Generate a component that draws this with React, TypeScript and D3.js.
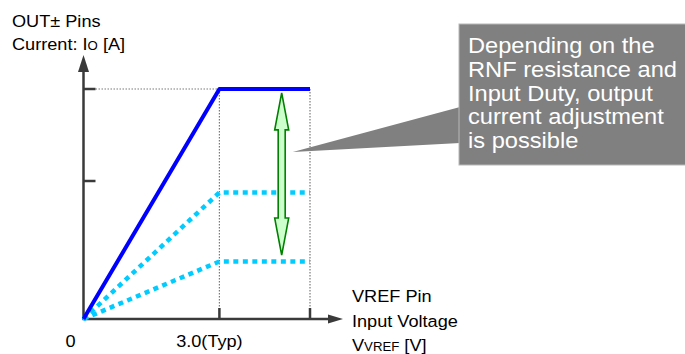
import React from "react";
import * as d3 from "d3";

// ---- data ----
const voltages = [0, 3.0, 5.0];
const maxCurrent = [0, 1.0, 1.0];
const midCurrent = [0, 0.55, 0.55];
const lowCurrent = [0, 0.25, 0.25];
const yTicks = [1.0, 0.6];
const xTicks = [3.0, 5.0];
const xTickLabels = [{ v: 0, label: "0", dx: -13 }, { v: 3.0, label: "3.0(Typ)", dx: -10 }];
const adjustArrow = { v: 4.375, from: 0.983, to: 0.278 };
const pointerTarget = { v: 4.62, c: 0.726 };
const calloutLines = [
  "Depending on the",
  "RNF resistance and",
  "Input Duty, output",
  "current adjustment",
  "is possible",
];

const W = 685;
const H = 354;
const FONT = "'Liberation Sans', Arial, Helvetica, sans-serif";

export default function App() {
  const x = d3.scaleLinear().domain([0, 5]).range([83.5, 310]);
  const y = d3.scaleLinear().domain([0, 1]).range([319, 89]);
  const line = d3
    .line<number>()
    .x((_, i) => x(voltages[i]))
    .y((d) => y(d));

  const axisColor = "#3a3a3a";
  const ax0 = x(0);
  const ay0 = y(0);

  // green double arrow
  const ax = x(adjustArrow.v);
  const top = y(adjustArrow.from);
  const bot = y(adjustArrow.to);
  const hl = 37, hw = 7, sw = 3.5;
  const arrowPts = [
    [ax, top],
    [ax + hw, top + hl],
    [ax + sw, top + hl],
    [ax + sw, bot - hl],
    [ax + hw, bot - hl],
    [ax, bot],
    [ax - hw, bot - hl],
    [ax - sw, bot - hl],
    [ax - sw, top + hl],
    [ax - hw, top + hl],
  ]
    .map((p) => p.join(","))
    .join(" ");

  const boxX = 459, boxY = 24, boxH = 141;
  const pointer = [
    [boxX + 1, 107],
    [x(pointerTarget.v), y(pointerTarget.c)],
    [boxX + 1, 143],
  ]
    .map((p) => p.join(","))
    .join(" ");

  const txt = (tx: number, ty: number, children: React.ReactNode, extra: any = {}) => (
    <text
      transform={`translate(${tx},${ty}) scale(1.1,1)`}
      fontFamily={FONT}
      fontSize={16.5}
      fill="#000"
      {...extra}
    >
      {children}
    </text>
  );

  return (
    <svg
      width={W}
      height={H}
      style={{ position: "absolute", left: 0, top: 0, background: "#fff" }}
    >
      {/* dotted guide lines */}
      <g stroke="#7a7a7a" strokeWidth={1.2} strokeDasharray="1.5,1.5" fill="none">
        <line x1={ax0 + 12} x2={x(3.0)} y1={y(1)} y2={y(1)} />
        {xTicks.map((v) => (
          <line key={v} x1={x(v)} x2={x(v)} y1={y(1)} y2={ay0 - 11} />
        ))}
      </g>

      {/* axes */}
      <g stroke={axisColor} strokeWidth={2.5} fill="none">
        <line x1={ax0} x2={ax0} y1={ay0 + 1} y2={70} />
        <line x1={ax0 - 1} x2={330} y1={ay0} y2={ay0} />
        {yTicks.map((t) => (
          <line key={t} x1={ax0} x2={ax0 + 12} y1={y(t)} y2={y(t)} />
        ))}
        {xTicks.map((t) => (
          <line key={t} x1={x(t)} x2={x(t)} y1={ay0} y2={ay0 - 11} />
        ))}
      </g>
      <polygon points={`${ax0},55 ${ax0 - 5.5},72 ${ax0 + 5.5},72`} fill={axisColor} />
      <polygon points={`343,${ay0} 328,${ay0 - 4.5} 328,${ay0 + 4.5}`} fill={axisColor} />

      {/* series */}
      <path d={line(lowCurrent) || ""} fill="none" stroke="#00ccff" strokeWidth={4.5} strokeDasharray="5,4.5" />
      <path d={line(midCurrent) || ""} fill="none" stroke="#00ccff" strokeWidth={4.5} strokeDasharray="5,4.5" />
      <circle cx={ax0 + 1} cy={ay0 - 1} r={2.5} fill="#00ccff" />
      <path d={line(maxCurrent) || ""} fill="none" stroke="#0000ff" strokeWidth={4} strokeLinejoin="round" />

      {/* green adjust arrow */}
      <polygon points={arrowPts} fill="#ccffcc" stroke="#008000" strokeWidth={1.6} strokeLinejoin="miter" />

      {/* callout */}
      <polygon points={pointer} fill="#808080" />
      <rect x={boxX} y={boxY} width={W - boxX + 5} height={boxH} fill="#808080" stroke="#b8b8b8" strokeWidth={1} />
      {calloutLines.map((l, i) =>
        txt(468, 53 + i * 23.75, l, { key: i, fill: "#fff", fontSize: 21.5 })
      )}

      {/* axis titles */}
      {txt(12, 27, "OUT± Pins")}
      {txt(12, 50, [
        "Current: I",
        <tspan key="s" fontSize={12}>O</tspan>,
        " [A]",
      ])}
      {xTickLabels.map((t) =>
        txt(x(t.v) + t.dx, 347, t.label, { key: t.label, textAnchor: "middle" })
      )}
      {txt(352, 302, "VREF Pin")}
      {txt(352, 327, "Input Voltage")}
      {txt(352, 351, [
        "V",
        <tspan key="s" fontSize={12}>VREF</tspan>,
        " [V]",
      ])}
    </svg>
  );
}
